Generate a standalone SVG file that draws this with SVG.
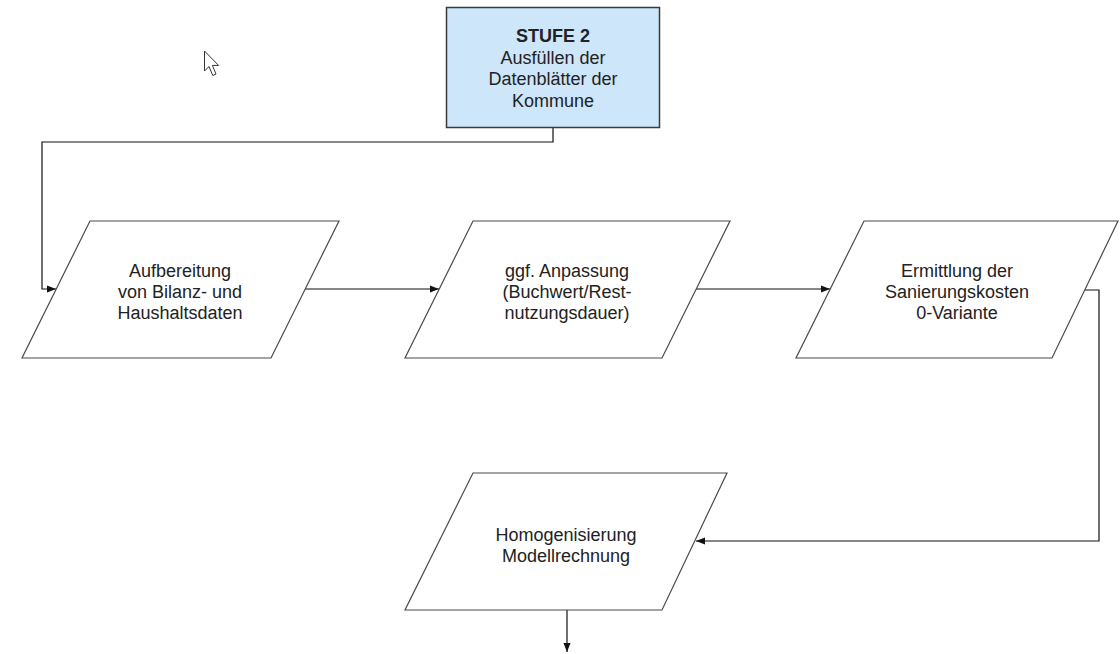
<svg xmlns="http://www.w3.org/2000/svg" width="1120" height="654" viewBox="0 0 1120 654">
<style>
.para{fill:#ffffff;stroke:#4a4a4a;stroke-width:1.2}
.box{fill:#cde6fa;stroke:#3a3a3a;stroke-width:1.5}
.t{font-family:"Liberation Sans",Arial,sans-serif;font-size:18px;fill:#222;text-anchor:middle}
.b{font-weight:bold}
.c{fill:none;stroke:#111;stroke-width:1.2;marker-end:url(#ah)}
</style>
<defs>
<marker id="ah" markerUnits="userSpaceOnUse" markerWidth="10" markerHeight="8" refX="9" refY="4" orient="auto">
<path d="M0,0.5 L9,4 L0,7.5 z" fill="#111"/>
</marker>
</defs>
<rect width="1120" height="654" fill="#ffffff"/>
<g id="cursor">
<path d="M204.5,51 L204.5,71 L209,66.5 L212.8,75.5 L216,74 L212.4,65.4 L218.6,65.4 Z" fill="#ffffff" stroke="#333" stroke-width="1"/>
</g>
<g id="connectors">
<path class="c" d="M553,127 V142 H42 V289 H56"/>
<path class="c" d="M305,289 H439"/>
<path class="c" d="M696,289 H830"/>
<path class="c" d="M1085,290 H1099 V541 H696"/>
<path class="c" d="M567,610 V652"/>
</g>
<g id="stufe2">
<rect class="box" x="446.5" y="7.5" width="213" height="120"/>
<text class="t b" x="553" y="42">STUFE 2</text>
<text class="t" x="553" y="63.5">Ausfüllen der</text>
<text class="t" x="553" y="85">Datenblätter der</text>
<text class="t" x="553" y="106.5">Kommune</text>
</g>
<g id="aufbereitung">
<polygon class="para" points="90,221 339,221 271,358 22,358"/>
<text class="t" x="180" y="277">Aufbereitung</text>
<text class="t" x="180" y="298">von Bilanz- und</text>
<text class="t" x="180" y="319">Haushaltsdaten</text>
</g>
<g id="anpassung">
<polygon class="para" points="473,221 730,221 662,358 405,358"/>
<text class="t" x="567" y="277">ggf. Anpassung</text>
<text class="t" x="567" y="298">(Buchwert/Rest-</text>
<text class="t" x="567" y="319">nutzungsdauer)</text>
</g>
<g id="ermittlung">
<polygon class="para" points="864,221 1118,221 1052,358 796,358"/>
<text class="t" x="957" y="277">Ermittlung der</text>
<text class="t" x="957" y="298">Sanierungskosten</text>
<text class="t" x="957" y="319">0-Variante</text>
</g>
<g id="homogenisierung">
<polygon class="para" points="473,473 727,473 662,610 405,610"/>
<text class="t" x="566" y="541">Homogenisierung</text>
<text class="t" x="566" y="562">Modellrechnung</text>
</g>
</svg>
